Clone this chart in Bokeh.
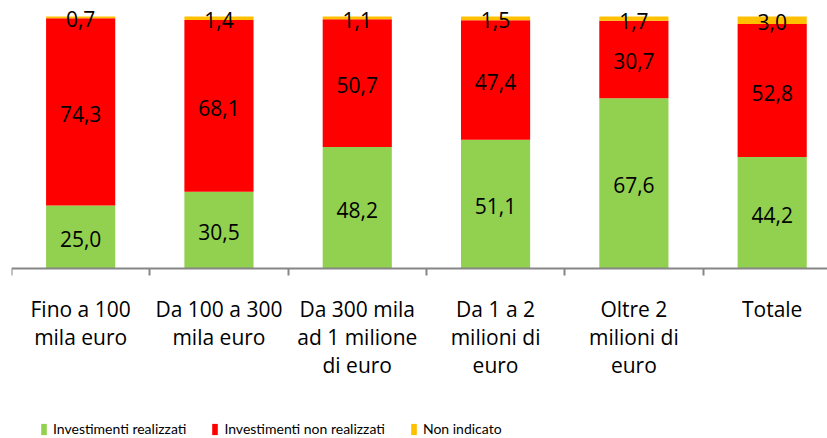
from bokeh.plotting import figure
from bokeh.models import (Range1d, FixedTicker, Legend, LegendItem, ColumnDataSource)
from bokeh.core.properties import value
from bokeh.embed import file_html
from bokeh.resources import INLINE

categories = ["Fino a 100\nmila euro", "Da 100 a 300\nmila euro", "Da 300 mila\nad 1 milione\ndi euro",
              "Da 1 a 2\nmilioni di\neuro", "Oltre 2\nmilioni di\neuro", "Totale"]
realizzati = [25.0, 30.5, 48.2, 51.1, 67.6, 44.2]
non_realizzati = [74.3, 68.1, 50.7, 47.4, 30.7, 52.8]
non_indicato = [0.7, 1.4, 1.1, 1.5, 1.7, 3.0]
series_names = ["Investimenti realizzati", "Investimenti non realizzati", "Non indicato"]
colors = ["#92D050", "#FF0000", "#FFC000"]

n = len(categories)
xs = [i + 0.5 for i in range(n)]
FONT = "Open Sans"

p = figure(width=827, height=438, output_backend="svg", toolbar_location=None,
           x_range=Range1d(0, 5.9), y_range=Range1d(-67.46, 103.17),
           min_border_left=11, min_border_right=0, min_border_top=8, min_border_bottom=0)
p.outline_line_color = None
p.xgrid.visible = False
p.ygrid.visible = False
p.yaxis.visible = False

src = ColumnDataSource(dict(x=xs, r=realizzati, nr=non_realizzati, ni=non_indicato))
rs = p.vbar_stack(["r", "nr", "ni"], x="x", width=0.5, source=src, color=colors, line_color=None)

# data labels
lab_x, lab_y, lab_t = [], [], []
for i in range(n):
    base = 0.0
    for vals in (realizzati, non_realizzati, non_indicato):
        v = vals[i]
        lab_x.append(xs[i])
        lab_y.append(base + v / 2)
        lab_t.append(f"{v:.1f}".replace(".", ","))
        base += v
p.text(x=lab_x, y=lab_y, text=lab_t, text_align="center", text_baseline="middle",
       text_font=value(FONT), text_font_size="21px", text_color="#000000", y_offset=2)

ax = p.xaxis[0]
ax.fixed_location = 0
ax.ticker = FixedTicker(ticks=xs, minor_ticks=list(range(n + 1)))
ax.major_label_overrides = {x: c for x, c in zip(xs, categories)}
ax.major_tick_out = 0
ax.major_tick_in = 0
ax.minor_tick_out = 7
ax.minor_tick_in = 0
ax.minor_tick_line_color = "#868686"
ax.minor_tick_line_width = 2
ax.axis_line_color = "#868686"
ax.axis_line_width = 2
ax.major_label_standoff = 20
ax.major_label_text_font = FONT
ax.major_label_text_font_size = "21px"
ax.major_label_text_color = "#000000"
ax.major_label_text_line_height = 1.0

legend = Legend(items=[LegendItem(label=series_names[k], renderers=[rs[k]]) for k in range(3)],
                orientation="horizontal", location=(29, 1),
                glyph_width=7, glyph_height=14, label_standoff=6, spacing=25,
                padding=0, margin=0, border_line_color=None, background_fill_alpha=0,
                label_text_font="Lato", label_text_font_size="14px",
                label_text_color="#000000")
p.add_layout(legend, "center")

open("out.html", "w").write(file_html(p, INLINE))
